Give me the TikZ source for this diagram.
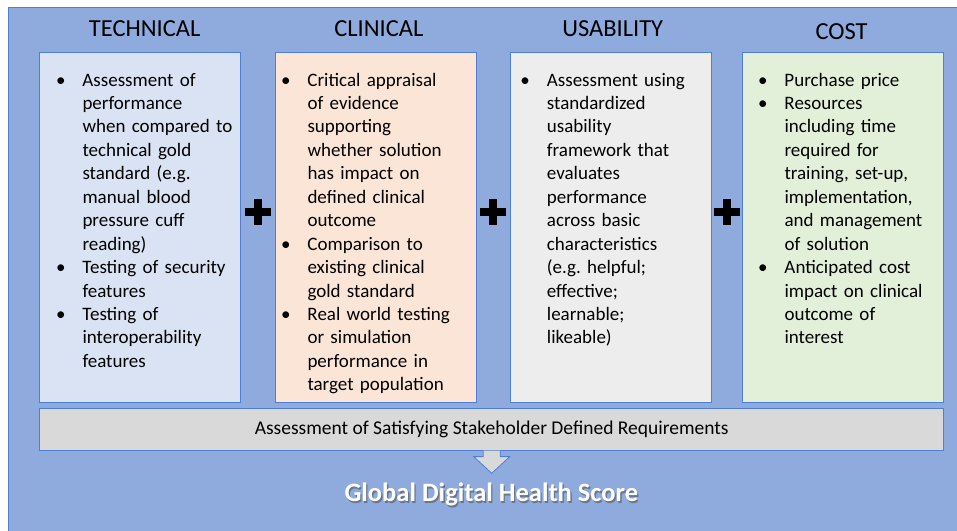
\documentclass[tikz,border=0pt]{standalone}
\usepackage{fontspec}
\setmainfont{Carlito}
\usetikzlibrary{positioning}

\definecolor{panelblue}{HTML}{8FAADC}
\definecolor{edgeblue}{HTML}{4E7FD2}
\definecolor{techfill}{HTML}{DAE3F3}
\definecolor{clinfill}{HTML}{FBE5D6}
\definecolor{usefill}{HTML}{EDEDED}
\definecolor{costfill}{HTML}{E2F0D9}
\definecolor{barfill}{HTML}{D9D9D9}

% bullets with the text indented beside them
\newcommand{\bfirst}{\leftskip=26.5pt\noindent\llap{\hbox to 26.5pt{\textbullet\hfil}}}
\newcommand{\bitem}{\par\bfirst}

\tikzset{
  box/.style={draw=edgeblue, line width=0.8pt, anchor=north west,
    minimum width=201pt, minimum height=350pt, inner sep=0pt},
  head/.style={font=\fontsize{24.5}{29}\selectfont, anchor=base},
  body/.style={anchor=base west, text width=200pt, align=left, inner sep=0pt,
    font=\fontsize{19}{23.45}\selectfont\frenchspacing},
  reqbar/.style={draw=edgeblue, line width=0.8pt, fill=barfill, anchor=north west,
    minimum width=904pt, minimum height=42.3pt, inner sep=0pt,
    font=\fontsize{19.5}{23}\selectfont},
  blockarrow/.style={fill=barfill, draw=edgeblue, line width=0.8pt, line join=miter},
  title/.style={font=\fontsize{26.5}{30}\selectfont\bfseries, anchor=base, inner sep=0pt},
}

\begin{document}
\begin{tikzpicture}[x=1pt, y=-1pt]
  \useasboundingbox (0,0) rectangle (957,530);
  \draw[fill=panelblue, draw=edgeblue, line width=1pt] (8,7) rectangle (960,533);

  % the four columns
  \node[box, fill=techfill] (tech) at (39.3,51.7) {};
  \node[box, fill=clinfill] (clin) at (275,51.7) {};
  \node[box, fill=usefill, minimum width=201.3pt] (usab) at (509.7,51.7) {};
  \node[box, fill=costfill, minimum width=201.3pt] (cost) at (742,51.7) {};

  \node[head] (techhead) at ([xshift=4.5pt, yshift=15pt]tech.north) {TECHNICAL};
  \node[head] (clinhead) at ([xshift=3pt, yshift=15pt]clin.north) {CLINICAL};
  \node[head] (usabhead) at ([xshift=2pt, yshift=15pt]usab.north) {USABILITY};
  \node[head] (costhead) at ([xshift=-1.5pt, yshift=12.5pt]cost.north) {COST};

  \node[body] (techtext) at (55.8,86) {\bfirst Assessment of\\performance\\when compared to\\technical gold\\standard (e.g.\\manual blood\\pressure cuff\\reading)\bitem Testing of security\\features\bitem Testing of\\interoperability\\features\par};
  \node[body] (clintext) at (280.8,86) {\bfirst Critical appraisal\\of evidence\\supporting\\whether solution\\has impact on\\defined clinical\\outcome\bitem Comparison to\\existing clinical\\gold standard\bitem Real world testing\\or simulation\\performance in\\target population\par};
  \node[body] (usabtext) at (520.2,86) {\bfirst Assessment using\\standardized\\usability\\framework that\\evaluates\\performance\\across basic\\characteristics\\(e.g. helpful;\\effective;\\learnable;\\likeable)\par};
  \node[body] (costtext) at (757.8,86) {\bfirst Purchase price\bitem Resources\\including time\\required for\\training, set-up,\\implementation,\\and management\\of solution\bitem Anticipated cost\\impact on clinical\\outcome of\\interest\par};

  % plus signs between the columns
  \foreach \x in {257.9,492.9,726.5}{
    \fill[black] (\x-13,208) rectangle (\x+13,216);
    \fill[black] (\x-4,199) rectangle (\x+4,225);
  }

  % requirements bar and arrow
  \node[reqbar, below right=5pt and 0pt of tech.south west] (req) {Assessment of Satisfying Stakeholder Defined Requirements};
  \draw[blockarrow] ([xshift=-8.5pt]req.south) -- ++(0,6) -- ++(-9.5,0) -- ++(18,16.7)
    -- ++(18,-16.7) -- ++(-9.5,0) -- ++(0,-6);

  \node[title, text=black!70, opacity=0.55] (scoreshadow) at (492.6,503.2) {Global Digital Health Score};
  \node[title, text=white] (score) at (491.3,501.7) {Global Digital Health Score};
\end{tikzpicture}
\end{document}
